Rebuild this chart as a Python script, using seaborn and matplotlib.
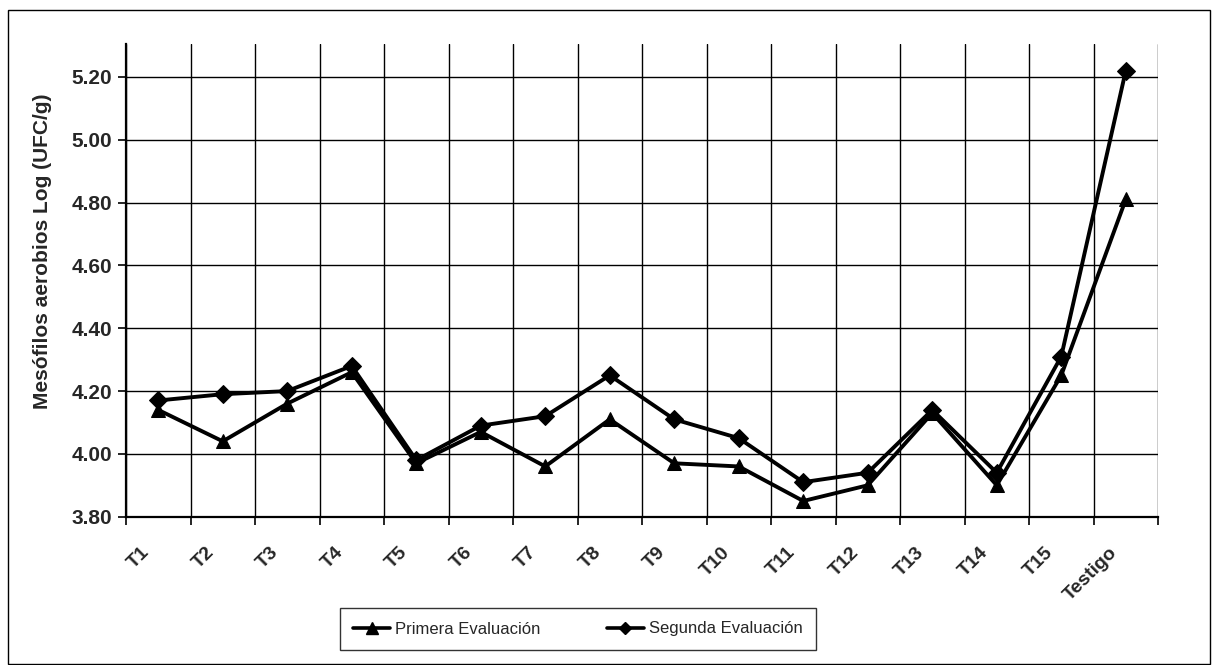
import matplotlib
matplotlib.use("Agg")
import matplotlib.pyplot as plt
from matplotlib.patches import Rectangle
from matplotlib.lines import Line2D
from matplotlib.ticker import FixedLocator
import seaborn as sns
import pandas as pd

tratamientos = ["T1", "T2", "T3", "T4", "T5", "T6", "T7", "T8", "T9", "T10",
                "T11", "T12", "T13", "T14", "T15", "Testigo"]
primera = [4.14, 4.04, 4.16, 4.26, 3.97, 4.07, 3.96, 4.11, 3.97, 3.96,
           3.85, 3.90, 4.13, 3.90, 4.25, 4.81]
segunda = [4.17, 4.19, 4.20, 4.28, 3.98, 4.09, 4.12, 4.25, 4.11, 4.05,
           3.91, 3.94, 4.14, 3.94, 4.31, 5.22]
series = ["Primera Evaluación", "Segunda Evaluación"]
y_ticks = [3.80, 4.00, 4.20, 4.40, 4.60, 4.80, 5.00, 5.20]

df = pd.DataFrame({
    "Tratamiento": tratamientos * 2,
    "Log": primera + segunda,
    "Evaluación": [series[0]] * len(primera) + [series[1]] * len(segunda),
})

sns.set_style("white")
plt.rcParams["font.family"] = ["Liberation Sans", "DejaVu Sans"]

fig = plt.figure(figsize=(12.12, 6.65), dpi=100)
ax = fig.add_axes([126 / 1212, 1 - 516.7 / 665, (1158 - 126) / 1212, (516.7 - 44) / 665])

sns.lineplot(data=df, x="Tratamiento", y="Log", style="Evaluación",
             markers={series[0]: "^", series[1]: "D"},
             dashes=False, color="black", linewidth=2.8, markersize=9.5,
             markeredgecolor="black", sort=False, legend=False, ax=ax)

n = len(tratamientos)
ax.set_xlim(-0.5, n - 0.5)
ax.set_ylim(3.80, 5.305)

# category boundaries carry the vertical grid and the tick marks
ax.set_xticks(list(range(n)))
ax.set_xticklabels([""] * n)
ax.xaxis.set_minor_locator(FixedLocator([i - 0.5 for i in range(n + 1)]))
ax.tick_params(axis="x", which="major", length=0)
ax.tick_params(axis="x", which="minor", length=6, width=1.2, color="black",
               direction="out", bottom=True)
ax.grid(True, axis="x", which="minor", color="black", linewidth=1.0)

# slanted category names, ending a little left of each category centre
for i, name in enumerate(tratamientos):
    ax.annotate(name, xy=(i, 0), xycoords=("data", "axes fraction"),
                xytext=(-8, -24), textcoords="offset points",
                rotation=45, ha="right", va="center", rotation_mode="anchor",
                fontsize=14, fontweight="bold", annotation_clip=False)

ax.set_yticks(y_ticks)
ax.set_yticklabels([f"{v:.2f}" for v in y_ticks], fontsize=15, fontweight="bold")
ax.tick_params(axis="y", which="major", length=6, width=1.2, color="black",
               direction="out", left=True, pad=4)
ax.grid(True, axis="y", which="major", color="black", linewidth=1.0)

ax.set_xlabel("")
ax.set_ylabel("Mesófilos aerobios Log (UFC/g)", fontsize=15, fontweight="bold")
ax.yaxis.set_label_coords((52 - 126) / 1032, (516.7 - 251) / 472.7)

for side in ["top", "right"]:
    ax.spines[side].set_visible(False)
for side in ["left", "bottom"]:
    ax.spines[side].set_color("black")
    ax.spines[side].set_linewidth(1.6)

handles = [
    Line2D([], [], color="black", linewidth=2.6, marker="^", markersize=9),
    Line2D([], [], color="black", linewidth=2.6, marker="D", markersize=6.5),
]
leg = fig.legend(handles, series, loc="center", ncol=2,
                 bbox_to_anchor=(578 / 1212, 1 - 629 / 665),
                 fontsize=12, frameon=True, fancybox=False, edgecolor="black",
                 handlelength=2.2, handletextpad=0.3, columnspacing=4.0,
                 borderpad=0.8)
leg.get_frame().set_linewidth(1.0)

fig.patches.append(Rectangle((8 / 1212, 1 / 665), 1202 / 1212, 654 / 665,
                             transform=fig.transFigure, fill=False,
                             edgecolor="black", linewidth=1.0))

fig.savefig("out.png", dpi=100, facecolor="white")
